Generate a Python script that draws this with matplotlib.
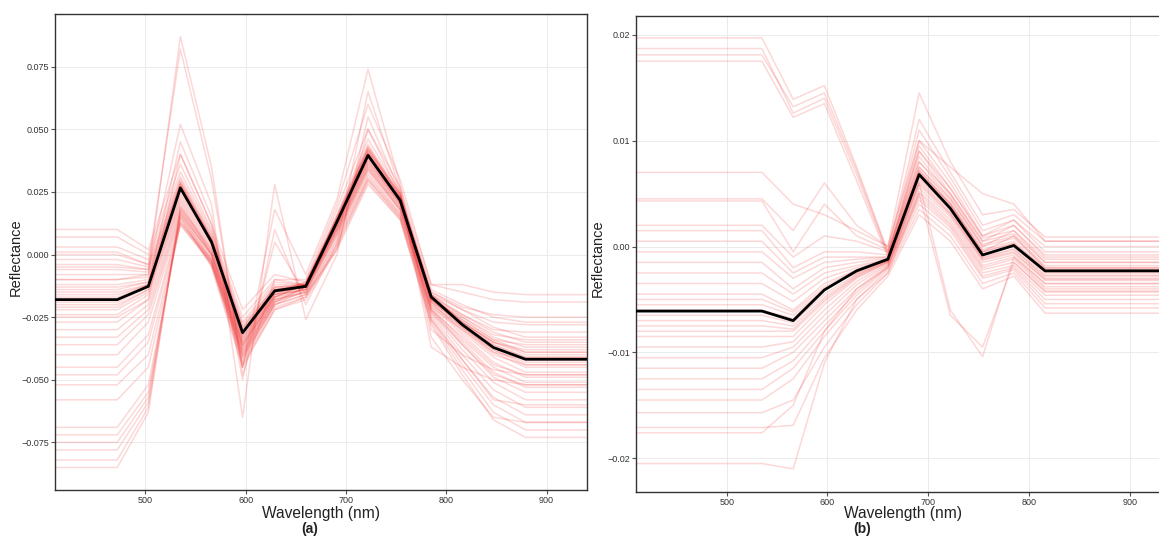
import numpy as np
import matplotlib.pyplot as plt

plt.rcParams['font.family'] = 'Liberation Sans'

x_limits = (410, 940)
x_ticks = [500, 600, 700, 800, 900]

# ---- panel (a) ----
wl_a = [472, 503, 535, 566, 597, 629, 660, 691, 722, 754, 785, 816, 847, 879]
mean_a = [-0.018, -0.0127, 0.0266, 0.005, -0.0312, -0.0145, -0.0127, 0.013, 0.0396, 0.0217,
          -0.0169, -0.028, -0.0371, -0.0418]
lines_a = [
    [0.010, 0.002, 0.040, 0.012, -0.022, -0.008, -0.011, 0.018, 0.050, 0.027, -0.012, -0.015, -0.018, -0.019],
    [0.007, 0.000, 0.036, 0.010, -0.025, -0.010, -0.012, 0.016, 0.046, 0.025, -0.014, -0.020, -0.025, -0.027],
    [0.003, -0.002, 0.033, 0.009, -0.027, -0.011, -0.012, 0.015, 0.044, 0.024, -0.015, -0.022, -0.029, -0.033],
    [0.001, -0.004, 0.031, 0.008, -0.028, -0.012, -0.012, 0.015, 0.043, 0.023, -0.016, -0.024, -0.031, -0.035],
    [-0.002, -0.005, 0.030, 0.007, -0.029, -0.013, -0.012, 0.014, 0.042, 0.023, -0.016, -0.025, -0.033, -0.037],
    [-0.004, -0.006, 0.029, 0.007, -0.030, -0.013, -0.013, 0.014, 0.041, 0.022, -0.017, -0.026, -0.034, -0.039],
    [-0.006, -0.007, 0.028, 0.006, -0.031, -0.014, -0.013, 0.013, 0.040, 0.022, -0.017, -0.027, -0.035, -0.040],
    [-0.008, -0.008, 0.028, 0.006, -0.032, -0.014, -0.013, 0.013, 0.040, 0.021, -0.018, -0.028, -0.036, -0.041],
    [-0.010, -0.009, 0.027, 0.005, -0.033, -0.015, -0.013, 0.012, 0.039, 0.021, -0.018, -0.029, -0.038, -0.043],
    [-0.012, -0.010, 0.026, 0.005, -0.034, -0.015, -0.013, 0.012, 0.038, 0.020, -0.019, -0.030, -0.039, -0.045],
    [-0.014, -0.011, 0.025, 0.004, -0.035, -0.016, -0.014, 0.011, 0.037, 0.020, -0.019, -0.031, -0.041, -0.047],
    [-0.016, -0.012, 0.024, 0.003, -0.036, -0.016, -0.014, 0.010, 0.036, 0.019, -0.020, -0.032, -0.043, -0.049],
    [-0.018, -0.013, 0.023, 0.002, -0.037, -0.017, -0.014, 0.010, 0.035, 0.018, -0.021, -0.034, -0.045, -0.051],
    [-0.020, -0.014, 0.022, 0.001, -0.038, -0.018, -0.015, 0.009, 0.034, 0.018, -0.022, -0.035, -0.047, -0.053],
    [-0.022, -0.015, 0.021, 0.000, -0.039, -0.018, -0.015, 0.008, 0.033, 0.017, -0.022, -0.036, -0.049, -0.055],
    [-0.024, -0.016, 0.020, 0.000, -0.040, -0.019, -0.015, 0.007, 0.032, 0.016, -0.023, -0.038, -0.051, -0.058],
    [-0.027, -0.018, 0.019, -0.001, -0.041, -0.020, -0.016, 0.006, 0.031, 0.016, -0.024, -0.040, -0.054, -0.061],
    [-0.030, -0.020, 0.018, -0.002, -0.042, -0.020, -0.016, 0.005, 0.030, 0.015, -0.025, -0.042, -0.057, -0.064],
    [-0.033, -0.022, 0.017, -0.003, -0.043, -0.021, -0.017, 0.004, 0.030, 0.015, -0.026, -0.044, -0.060, -0.067],
    [-0.036, -0.024, 0.016, -0.004, -0.044, -0.022, -0.017, 0.003, 0.029, 0.014, -0.027, -0.046, -0.063, -0.070],
    [-0.040, -0.027, 0.015, -0.005, -0.045, -0.022, -0.018, 0.002, 0.028, 0.014, -0.028, -0.048, -0.066, -0.073],
    [-0.045, -0.032, 0.014, -0.004, -0.040, -0.019, -0.013, 0.010, 0.036, 0.020, -0.021, -0.030, -0.040, -0.044],
    [-0.048, -0.035, 0.013, -0.002, -0.036, -0.017, -0.012, 0.011, 0.038, 0.021, -0.019, -0.027, -0.035, -0.038],
    [-0.052, -0.040, 0.012, -0.003, -0.038, -0.018, -0.013, 0.009, 0.035, 0.019, -0.022, -0.033, -0.044, -0.048],
    [-0.058, -0.045, 0.012, -0.004, -0.041, -0.020, -0.014, 0.008, 0.034, 0.018, -0.023, -0.036, -0.048, -0.052],
    [-0.069, -0.052, 0.013, -0.003, -0.039, -0.019, -0.013, 0.011, 0.037, 0.021, -0.020, -0.029, -0.039, -0.042],
    [-0.072, -0.055, 0.015, -0.002, -0.037, -0.017, -0.012, 0.012, 0.039, 0.022, -0.018, -0.026, -0.034, -0.036],
    [-0.075, -0.057, 0.016, 0.000, -0.035, -0.016, -0.012, 0.013, 0.041, 0.023, -0.017, -0.024, -0.030, -0.031],
    [-0.078, -0.059, 0.018, 0.001, -0.034, -0.016, -0.011, 0.014, 0.042, 0.024, -0.016, -0.022, -0.027, -0.028],
    [-0.082, -0.061, 0.017, 0.000, -0.036, -0.017, -0.012, 0.013, 0.040, 0.022, -0.018, -0.025, -0.032, -0.034],
    [-0.085, -0.063, 0.019, 0.002, -0.033, -0.015, -0.011, 0.015, 0.043, 0.024, -0.015, -0.021, -0.024, -0.025],
    [-0.010, -0.008, 0.087, 0.035, -0.048, -0.010, -0.010, 0.020, 0.060, 0.030, -0.012, -0.012, -0.015, -0.016],
    [0.000, -0.004, 0.082, 0.030, -0.045, 0.018, -0.008, 0.022, 0.074, 0.028, -0.030, -0.040, -0.046, -0.048],
    [-0.005, -0.006, 0.052, 0.020, -0.065, 0.028, -0.026, 0.000, 0.055, 0.025, -0.037, -0.045, -0.050, -0.052],
    [-0.015, -0.012, 0.045, 0.015, -0.050, 0.010, -0.020, 0.004, 0.065, 0.026, -0.033, -0.050, -0.065, -0.067],
    [-0.025, -0.018, 0.040, 0.012, -0.045, 0.005, -0.016, 0.002, 0.050, 0.024, -0.026, -0.042, -0.058, -0.060],
    [-0.019, -0.013, 0.027, 0.006, -0.031, -0.014, -0.012, 0.013, 0.040, 0.022, -0.017, -0.028, -0.037, -0.042],
    [-0.017, -0.012, 0.026, 0.005, -0.030, -0.014, -0.012, 0.014, 0.039, 0.021, -0.016, -0.027, -0.036, -0.041],
    [-0.021, -0.014, 0.028, 0.004, -0.032, -0.015, -0.013, 0.012, 0.041, 0.022, -0.018, -0.029, -0.038, -0.044],
    [-0.013, -0.011, 0.029, 0.006, -0.029, -0.013, -0.012, 0.014, 0.042, 0.023, -0.017, -0.027, -0.035, -0.039],
]
y_ticks_a = [-0.075, -0.050, -0.025, 0.000, 0.025, 0.050, 0.075]
y_limits_a = (-0.094, 0.0959)

# ---- panel (b) ----
wl_b = [535, 566, 597, 629, 660, 691, 722, 754, 785, 816]
mean_b = [-0.0061, -0.0070, -0.0041, -0.0023, -0.0012, 0.0068, 0.0036, -0.0008, 0.0001, -0.0023]
lines_b = [
    [0.0197, 0.0139, 0.0152, 0.0075, -0.0005, 0.0080, 0.0050, 0.0005, 0.0020, -0.0010],
    [0.0187, 0.0126, 0.0140, 0.0068, -0.0008, 0.0075, 0.0045, 0.0000, 0.0015, -0.0015],
    [0.0181, 0.0132, 0.0145, 0.0072, -0.0006, 0.0090, 0.0055, 0.0010, 0.0025, -0.0005],
    [0.0175, 0.0122, 0.0135, 0.0062, -0.0010, 0.0070, 0.0040, -0.0005, 0.0010, -0.0020],
    [0.0045, 0.0015, 0.0060, 0.0020, 0.0000, 0.0145, 0.0080, 0.0030, 0.0035, 0.0009],
    [0.0043, -0.0005, 0.0040, 0.0010, -0.0003, 0.0120, 0.0070, 0.0020, 0.0030, 0.0005],
    [0.0020, -0.0010, 0.0010, 0.0005, -0.0005, 0.0110, 0.0065, 0.0015, 0.0025, 0.0000],
    [0.0015, -0.0020, -0.0005, -0.0005, -0.0008, 0.0100, 0.0060, 0.0010, 0.0020, -0.0008],
    [0.0005, -0.0025, -0.0010, -0.0010, -0.0010, 0.0095, 0.0055, 0.0008, 0.0015, -0.0012],
    [-0.0005, -0.0030, -0.0015, -0.0012, -0.0010, 0.0090, 0.0050, 0.0005, 0.0012, -0.0015],
    [-0.0015, -0.0040, -0.0020, -0.0015, -0.0011, 0.0085, 0.0048, 0.0002, 0.0010, -0.0018],
    [-0.0025, -0.0045, -0.0025, -0.0018, -0.0012, 0.0080, 0.0045, 0.0000, 0.0008, -0.0020],
    [-0.0035, -0.0052, -0.0030, -0.0020, -0.0012, 0.0075, 0.0042, -0.0003, 0.0005, -0.0022],
    [-0.0045, -0.0060, -0.0035, -0.0022, -0.0013, 0.0072, 0.0040, -0.0005, 0.0003, -0.0025],
    [-0.0055, -0.0065, -0.0040, -0.0024, -0.0013, 0.0070, 0.0038, -0.0007, 0.0000, -0.0027],
    [-0.0065, -0.0072, -0.0045, -0.0026, -0.0014, 0.0066, 0.0035, -0.0010, -0.0002, -0.0030],
    [-0.0075, -0.0078, -0.0050, -0.0028, -0.0014, 0.0062, 0.0032, -0.0012, -0.0005, -0.0032],
    [-0.0085, -0.0085, -0.0055, -0.0030, -0.0015, 0.0058, 0.0030, -0.0015, -0.0008, -0.0035],
    [-0.0095, -0.0090, -0.0060, -0.0033, -0.0016, 0.0055, 0.0028, -0.0018, -0.0010, -0.0038],
    [-0.0105, -0.0095, -0.0065, -0.0036, -0.0017, 0.0052, 0.0025, -0.0020, -0.0012, -0.0040],
    [-0.0115, -0.0100, -0.0070, -0.0040, -0.0018, 0.0050, 0.0022, -0.0022, -0.0015, -0.0043],
    [-0.0125, -0.0108, -0.0075, -0.0043, -0.0019, 0.0047, 0.0020, -0.0025, -0.0018, -0.0046],
    [-0.0135, -0.0115, -0.0080, -0.0046, -0.0020, 0.0044, 0.0018, -0.0028, -0.0020, -0.0050],
    [-0.0145, -0.0125, -0.0085, -0.0050, -0.0022, 0.0040, 0.0015, -0.0030, -0.0022, -0.0054],
    [-0.0157, -0.0145, -0.0095, -0.0055, -0.0025, 0.0035, 0.0010, -0.0035, -0.0025, -0.0058],
    [-0.0171, -0.0169, -0.0105, -0.0060, -0.0028, 0.0030, 0.0005, -0.0040, -0.0028, -0.0063],
    [-0.0176, -0.0150, -0.0080, -0.0040, -0.0020, 0.0060, -0.0060, -0.0104, -0.0010, -0.0035],
    [-0.0205, -0.0210, -0.0110, -0.0050, -0.0025, 0.0050, -0.0065, -0.0095, -0.0015, -0.0042],
    [-0.0060, -0.0068, -0.0040, -0.0025, -0.0013, 0.0068, 0.0036, -0.0008, 0.0001, -0.0024],
    [-0.0050, -0.0062, -0.0038, -0.0022, -0.0012, 0.0072, 0.0040, -0.0005, 0.0003, -0.0021],
    [-0.0070, -0.0075, -0.0048, -0.0027, -0.0014, 0.0064, 0.0034, -0.0011, -0.0003, -0.0028],
    [-0.0080, -0.0080, -0.0052, -0.0029, -0.0015, 0.0060, 0.0031, -0.0013, -0.0006, -0.0031],
    [0.0070, 0.0040, 0.0030, 0.0015, 0.0000, 0.0100, 0.0075, 0.0050, 0.0040, 0.0005],
]
y_ticks_b = [-0.02, -0.01, 0.00, 0.01, 0.02]
y_limits_b = (-0.02316, 0.0218)


def extend(wl, vals):
    # curves are flat outside the evaluated grid, out to the axis limits
    x = np.r_[x_limits[0], wl, x_limits[1]]
    y = np.pad(np.asarray(vals, dtype=float), 1, mode='edge')
    return x, y


def draw_panel(ax, wl, lines, mean, yticks, ylim, fmt):
    for row in lines:
        x, y = extend(wl, row)
        ax.plot(x, y, color=(0.95, 0.1, 0.1), alpha=0.17, lw=1.1, zorder=2)
    x, y = extend(wl, mean)
    ax.plot(x, y, color='black', lw=2.0, zorder=3)
    ax.set_xlim(*x_limits)
    ax.set_ylim(*ylim)
    ax.set_xticks(x_ticks)
    ax.set_yticks(yticks)
    ax.set_yticklabels([fmt.format(v).replace('-', '\u2212') for v in yticks])
    ax.grid(True, color='#ebebeb', lw=0.7)
    ax.set_axisbelow(True)
    ax.tick_params(labelsize=6.5, length=3, width=0.8, pad=1.5,
                   colors='#555555', labelcolor='#333333')
    for s in ax.spines.values():
        s.set_color('#333333')
        s.set_linewidth(1.0)
    ax.set_xlabel('Wavelength (nm)', fontsize=11.2, color='#222222')
    ax.set_ylabel('Reflectance', fontsize=10.5, color='#222222')


fig = plt.figure(figsize=(11.59, 5.37), dpi=100)
W, H = 1159, 537

ax_a = fig.add_axes([55 / W, 1 - 490 / H, 531.7 / W, 475.7 / H])
draw_panel(ax_a, wl_a, lines_a, mean_a, y_ticks_a, y_limits_a, '{:.3f}')
ax_a.yaxis.set_label_coords(-0.060, 0.49)
ax_a.xaxis.set_label_coords(0.5, -0.033)

# right panel runs past the right edge of the picture, as in the original crop
ax_b = fig.add_axes([636 / W, 1 - 491.7 / H, 534 / W, 476 / H])
draw_panel(ax_b, wl_b, lines_b, mean_b, y_ticks_b, y_limits_b, '{:.2f}')
ax_b.yaxis.set_label_coords(-0.058, 0.49)
ax_b.xaxis.set_label_coords(0.5, -0.030)

fig.text(309.5 / W, 1 - 529 / H, '(a)', fontsize=10, fontweight='bold',
         ha='center', va='center', color='#222222')
fig.text(862 / W, 1 - 529 / H, '(b)', fontsize=10, fontweight='bold',
         ha='center', va='center', color='#222222')

fig.savefig('out.png', dpi=100)
